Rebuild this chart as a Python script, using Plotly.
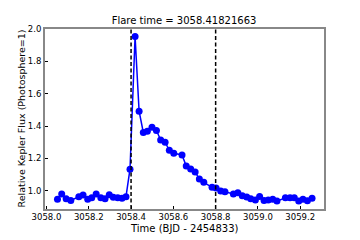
import plotly.graph_objects as go

# Kepler long-cadence light curve around the flare
time_bjd = [
    3058.052, 3058.072, 3058.093, 3058.115, 3058.153, 3058.173, 3058.195, 3058.214,
    3058.235, 3058.257, 3058.277, 3058.297, 3058.316, 3058.337, 3058.357, 3058.376,
    3058.395, 3058.419, 3058.438, 3058.458, 3058.477, 3058.499, 3058.520, 3058.540,
    3058.561, 3058.581, 3058.602, 3058.641, 3058.661, 3058.682, 3058.703, 3058.723,
    3058.744, 3058.783, 3058.802, 3058.824, 3058.844, 3058.884, 3058.905, 3058.926,
    3058.947, 3058.966, 3058.988, 3059.008, 3059.029, 3059.049, 3059.070, 3059.090,
    3059.130, 3059.152, 3059.172, 3059.193, 3059.213, 3059.234, 3059.256,
]
rel_flux = [
    0.947, 0.980, 0.950, 0.940, 0.963, 0.973, 0.947, 0.957,
    0.980, 0.957, 0.950, 0.975, 0.959, 0.957, 0.953, 0.963,
    1.133, 1.954, 1.492, 1.360, 1.368, 1.393, 1.372, 1.314,
    1.300, 1.250, 1.232, 1.221, 1.153, 1.134, 1.116, 1.072,
    1.052, 1.021, 1.017, 0.998, 0.994, 0.980, 0.988, 0.969,
    0.961, 0.950, 0.942, 0.965, 0.940, 0.942, 0.947, 0.936,
    0.957, 0.957, 0.957, 0.936, 0.947, 0.938, 0.953,
]
flare_bounds = [3058.40, 3058.80]
flare_time = 3058.41821663

x_ticks = [3058.0, 3058.2, 3058.4, 3058.6, 3058.8, 3059.0, 3059.2]
y_ticks = [1.0, 1.2, 1.4, 1.6, 1.8, 2.0]

FONT = "DejaVu Sans"
SPINE = "#888888"

fig = go.Figure()
fig.add_trace(go.Scatter(
    x=time_bjd, y=rel_flux,
    mode="lines+markers",
    line=dict(color="#0000ff", width=1.5),
    marker=dict(color="#0000ff", size=7),
    showlegend=False,
))
for xb in flare_bounds:
    fig.add_vline(x=xb, line=dict(color="black", width=1.5, dash="4px,2.5px"))

# axis titles as annotations so they sit where the reference has them
fig.add_annotation(text="Time (BJD - 2454833)", xref="paper", yref="paper",
                   x=0.5, y=0, yshift=-19, xanchor="center", yanchor="middle",
                   showarrow=False, font=dict(size=10, family=FONT, color="black"))
fig.add_annotation(text="Relative Kepler Flux (Photosphere=1)", xref="paper", yref="paper",
                   x=0, y=0.5, xshift=-24.5, xanchor="center", yanchor="middle",
                   textangle=-90, showarrow=False,
                   font=dict(size=9.5, family=FONT, color="black"))

# the page adds an 8px body margin, so the figure is 8px smaller than the window
fig.update_layout(
    width=352, height=232,
    margin=dict(l=37, r=36, t=21, b=31, autoexpand=False),
    paper_bgcolor="white", plot_bgcolor="white",
    font=dict(family=FONT, color="black", size=10),
    title=dict(text=f"Flare time = {flare_time:.8f}", x=0.5, xanchor="center",
               y=0.948, yanchor="middle", yref="container", automargin=False,
               font=dict(size=10, family=FONT, color="black")),
    xaxis=dict(
        range=[3057.993, 3059.3125], tickvals=x_ticks,
        ticktext=[f"{t:.1f}" for t in x_ticks],
        ticks="inside", ticklen=3, tickwidth=1, tickcolor="black",
        showline=True, linecolor=SPINE, linewidth=2, mirror=True,
        showgrid=False, zeroline=False, automargin=False,
        ticklabelstandoff=-1,
        tickfont=dict(size=8.5, family=FONT),
    ),
    yaxis=dict(
        range=[0.887, 2.0], tickvals=y_ticks,
        ticktext=[f"{t:.1f}" for t in y_ticks],
        ticks="inside", ticklen=3, tickwidth=1, tickcolor="black",
        showline=True, linecolor=SPINE, linewidth=2, mirror=True,
        showgrid=False, zeroline=False, automargin=False,
        tickfont=dict(size=8.5, family=FONT),
    ),
)

fig.write_html("out.html")
